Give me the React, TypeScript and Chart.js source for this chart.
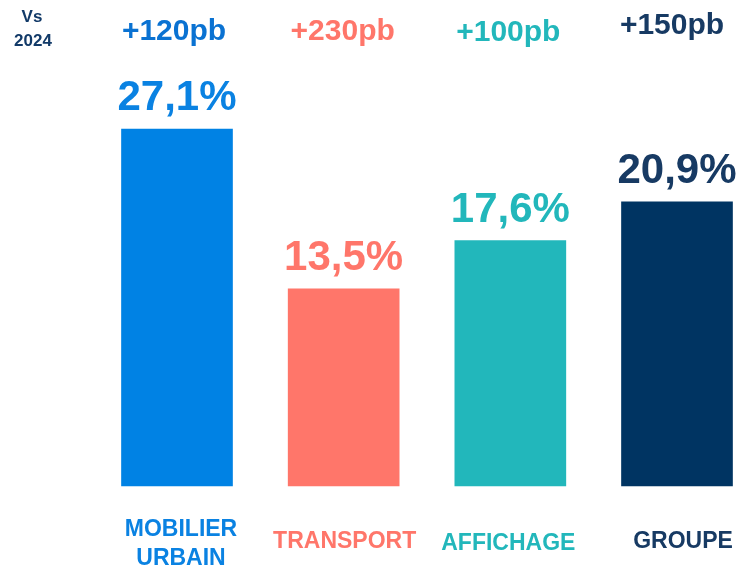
import React, { useEffect, useRef } from "react";
import { Chart, registerables } from "chart.js";

Chart.register(...registerables);

const categories = ["MOBILIER\nURBAIN", "TRANSPORT", "AFFICHAGE", "GROUPE"];
const values = [27.1, 13.5, 17.6, 20.9];
const valueLabels = ["27,1%", "13,5%", "17,6%", "20,9%"];
const deltaLabels = ["+120pb", "+230pb", "+100pb", "+150pb"];
const cornerLabel = ["Vs", "2024"];

const barColors = ["#0082E4", "#FF766A", "#22B7BB", "#003462"];
const deltaColors = ["#0A72D2", "#FF766A", "#22B7BB", "#173A63"];
const textColors = ["#0A82E2", "#FF766A", "#22B7BB", "#173A63"];

const FONT = "'Liberation Sans', Arial, sans-serif";

export default function App() {
  const ref = useRef<HTMLCanvasElement | null>(null);

  useEffect(() => {
    if (!ref.current) return;
    const labelPlugin = {
      id: "customLabels",
      afterDatasetsDraw(chart: any) {
        const ctx = chart.ctx as CanvasRenderingContext2D;
        const meta = chart.getDatasetMeta(0);
        ctx.save();
        ctx.textAlign = "center";
        ctx.textBaseline = "alphabetic";
        const deltaBase = [40, 40, 40.5, 34];
        const deltaDx = [-3, -1, -2, -5];
        const catDx = [4, 1, -2, 6];
        meta.data.forEach((bar: any, i: number) => {
          // value label above bar
          ctx.font = `bold 42px ${FONT}`;
          ctx.fillStyle = textColors[i];
          ctx.fillText(valueLabels[i], bar.x, bar.y - 19);
          // delta label at top
          ctx.font = `bold 30px ${FONT}`;
          ctx.fillStyle = deltaColors[i];
          ctx.fillText(deltaLabels[i], bar.x + deltaDx[i], deltaBase[i]);
          // category label
          ctx.font = `bold 23px ${FONT}`;
          ctx.fillStyle = textColors[i];
          const lines = categories[i].split("\n");
          if (lines.length === 2) {
            ctx.fillText(lines[0], bar.x + catDx[i], 536);
            ctx.fillText(lines[1], bar.x + catDx[i], 565);
          } else {
            const yb = [548, 548, 550, 548][i];
            ctx.fillText(lines[0], bar.x + catDx[i], yb);
          }
        });
        ctx.font = `bold 17px ${FONT}`;
        ctx.fillStyle = "#123A68";
        ctx.fillText(cornerLabel[0], 32, 22);
        ctx.fillText(cornerLabel[1], 33, 46);
        ctx.restore();
      },
    };

    const chart = new Chart(ref.current, {
      type: "bar",
      data: {
        labels: categories,
        datasets: [
          {
            data: values,
            backgroundColor: barColors,
            barThickness: 111,
            base: -3.3,
            clip: false as any,
            borderWidth: 0,
          } as any,
        ],
      },
      options: {
        responsive: false,
        animation: false,
        devicePixelRatio: 1,
        layout: { padding: { left: 177, right: 62, top: 0, bottom: 81 } },
        plugins: {
          legend: { display: false },
          tooltip: { enabled: false },
          title: { display: false },
        },
        scales: {
          x: { display: false, offset: false },
          y: { display: false, min: -3.3, max: 38.1 },
        },
      },
      plugins: [labelPlugin],
    });
    return () => chart.destroy();
  }, []);

  return (
    <div style={{ position: "absolute", left: 0, top: 0, width: 739, height: 567, background: "#fff" }}>
      <canvas ref={ref} width={739} height={567} style={{ display: "block", width: 739, height: 567 }} />
    </div>
  );
}
